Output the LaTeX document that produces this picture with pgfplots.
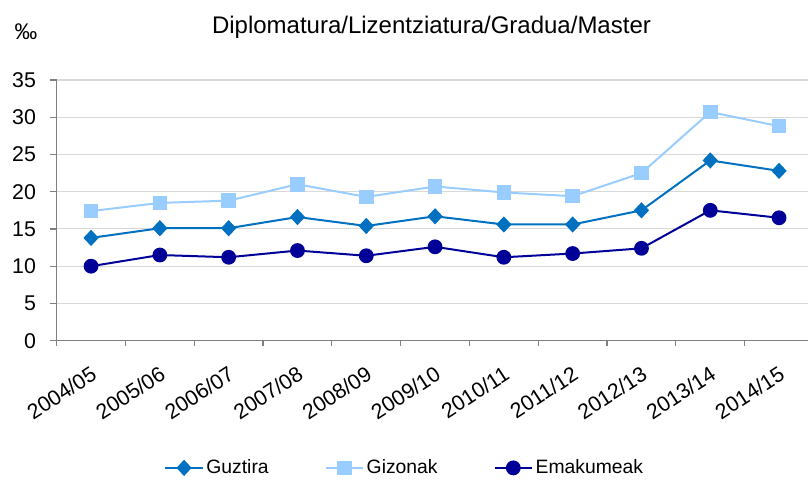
\documentclass[border=0pt]{standalone}
\usepackage{pgfplots}
\pgfplotsset{compat=1.18}
\usepackage{fontspec}
\setmainfont{Liberation Sans}
\definecolor{cTot}{RGB}{0,112,192}
\definecolor{cMen}{RGB}{153,204,255}
\definecolor{cWom}{RGB}{0,0,153}
\definecolor{cGrid}{RGB}{217,217,217}
\definecolor{cAxis}{RGB}{128,128,128}
\newcommand{\tl}{\fontsize{16}{19}\selectfont}
\begin{document}
\begin{tikzpicture}
\begin{axis}[
  at={(42.5pt,104.5pt)}, anchor=south west,
  scale only axis, width=567.6pt, height=195.5pt,
  xmin=-0.5, xmax=10.5, ymin=0, ymax=35,
  axis x line*=bottom, axis y line*=left,
  axis line style={cAxis, line width=0.9pt, -},
  xtick={0,...,10},
  xticklabels={{\tl 2004/05},{\tl 2005/06},{\tl 2006/07},{\tl 2007/08},{\tl 2008/09},{\tl 2009/10},{\tl 2010/11},{\tl 2011/12},{\tl 2012/13},{\tl 2013/14},{\tl 2014/15}},
  minor xtick={-0.5,0.5,...,10.5},
  major x tick style={draw=none},
  minor x tick style={cAxis, line width=0.9pt},
  minor tick length=4pt,
  ytick={0,5,...,35},
  y tick style={cAxis, line width=0.9pt},
  major tick length=5pt,
  tick align=outside,
  ymajorgrids, grid style={cGrid, line width=0.8pt},
  /pgf/number format/assume math mode=true,
  tick label style={font=\tl, text=black},
  xticklabel style={font=\tl, rotate=33, anchor=north east, inner sep=1pt, xshift=-7pt, yshift=-9.5pt},
  yticklabel style={font=\tl, xshift=-7pt},
  legend columns=3,
  legend style={draw=none, fill=none, at={(0.142,-0.488)}, anchor=west,
    font=\fontsize{14.5}{18}\selectfont, inner sep=0pt,
    /tikz/every even column/.append style={column sep=40pt}},
  legend cell align=left,
  legend image code/.code={\draw[mark repeat=2,mark phase=2] plot coordinates {(0pt,0pt) (14pt,0pt) (28pt,0pt)};},
]
\addplot[cTot, line width=1.5pt, mark=diamond*, mark size=5pt, mark options={xscale=1.25, solid}]
  coordinates {(0,13.8) (1,15.1) (2,15.1) (3,16.6) (4,15.4) (5,16.7) (6,15.6) (7,15.6) (8,17.5) (9,24.2) (10,22.8)};
\addlegendentry{Guztira}
\addplot[cMen, line width=1.5pt, mark=square*, mark size=4.7pt, mark options={solid}]
  coordinates {(0,17.4) (1,18.5) (2,18.8) (3,21.0) (4,19.3) (5,20.7) (6,19.9) (7,19.4) (8,22.5) (9,30.7) (10,28.8)};
\addlegendentry{Gizonak}
\addplot[cWom, line width=1.5pt, mark=*, mark size=4.8pt, mark options={solid}]
  coordinates {(0,10.0) (1,11.5) (2,11.2) (3,12.1) (4,11.4) (5,12.6) (6,11.2) (7,11.7) (8,12.4) (9,17.5) (10,16.5)};
\addlegendentry{Emakumeak}
\end{axis}
\node[font=\fontsize{18}{21}\selectfont] at (323.6pt,339.75pt) {Diplomatura/Lizentziatura/Gradua/Master};
\node[font=\fontsize{17}{20}\selectfont] at (19.5pt,336pt) {‰};
\pgfresetboundingbox
\path (0pt,0pt) rectangle (606pt,360pt);
\end{tikzpicture}
\end{document}
